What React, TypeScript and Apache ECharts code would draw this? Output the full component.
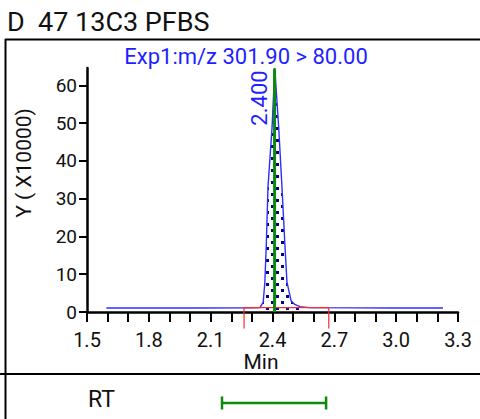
import React, { useEffect, useRef } from "react";
import * as echarts from "echarts";

const headerText = "D  47 13C3 PFBS";
const chartTitle = "Exp1:m/z 301.90 > 80.00";
const yAxisTitle = "Y ( X10000)";
const xAxisTitle = "Min";
const rtLabel = "RT";
const peakLabel = "2.400";

const xLabelValues = [1.5, 1.8, 2.1, 2.4, 2.7, 3.0, 3.3];
const xTickValues = [1.5, 1.6, 1.7, 1.8, 1.9, 2.0, 2.1, 2.2, 2.3, 2.4, 2.5, 2.6, 2.7, 2.8, 2.9, 3.0, 3.1, 3.2, 3.3];
const yTickValues = [0, 10, 20, 30, 40, 50, 60];

// chromatogram trace (Min, intensity x10000)
const traceX = [1.594, 2.0, 2.3, 2.340, 2.355, 2.363, 2.370, 2.378, 2.398, 2.411, 2.430, 2.446, 2.460, 2.470, 2.490, 2.508, 2.533, 2.58, 2.8, 3.0, 3.227];
const traceY = [1.05, 1.05, 1.1, 1.2, 2.6, 8, 18, 33, 49, 64.5, 49, 33, 18, 8, 3.0, 2.0, 1.4, 1.15, 1.1, 1.05, 1.05];

// integrated peak region
const peakStart = 2.340;
const peakEnd = 2.533;

// integration baseline (red)
const baseX = [2.262, 2.262, 2.673, 2.673];
const baseY = [-4.4, 1.15, 1.15, -4.4];

// apex marker
const apexRT = 2.41;
const apexHeight = 64.5;

// RT window
const rtWindow = [2.155, 2.66];

function makeDots(): string {
  const c = document.createElement("canvas");
  c.width = 10;
  c.height = 12;
  const g = c.getContext("2d")!;
  g.fillStyle = "#00008b";
  g.fillRect(1, 1, 3, 3);
  g.fillRect(6, 7, 3, 3);
  return c.toDataURL();
}

export default function App() {
  const ref = useRef<HTMLDivElement>(null);
  useEffect(() => {
    document.body.style.margin = "0";
    const chart = echarts.init(ref.current!, null, { renderer: "svg" });
    const font = "Roboto, 'Liberation Sans', sans-serif";
    const trace = traceX.map((x, i) => [x, traceY[i]]);
    const peak = trace.filter((p) => p[0] >= peakStart && p[0] <= peakEnd);
    const base = baseX.map((x, i) => [x, baseY[i]]);
    const dots = makeDots();

    chart.setOption({
      animation: false,
      textStyle: { fontFamily: font },
      grid: [
        { left: 87, right: 22, top: 68, bottom: 107 },
        { left: 87, right: 22, top: 390, height: 26 },
      ],
      xAxis: [
        {
          type: "value",
          gridIndex: 0,
          min: 1.5,
          max: 3.3,
          splitLine: { show: false },
          axisLine: { lineStyle: { color: "#000", width: 2.5 } },
          axisTick: { customValues: xTickValues, length: 10, lineStyle: { color: "#000", width: 2 } },
          axisLabel: {
            customValues: xLabelValues,
            formatter: (v: number) => v.toFixed(1),
            color: "#111",
            fontSize: 20,
            margin: 18,
            fontFamily: font,
          },
        },
        { type: "value", gridIndex: 1, min: 1.5, max: 3.3, show: false },
      ],
      yAxis: [
        {
          type: "value",
          gridIndex: 0,
          min: 0,
          max: 64.6,
          splitLine: { show: false },
          axisLine: { show: true, lineStyle: { color: "#000", width: 2.5 } },
          axisTick: { show: true, customValues: yTickValues, length: 8, lineStyle: { color: "#000", width: 2 } },
          axisLabel: {
            customValues: yTickValues,
            color: "#111",
            fontSize: 19,
            margin: 10,
            fontFamily: font,
          },
        },
        { type: "value", gridIndex: 1, min: 0, max: 1, show: false },
      ],
      series: [
        {
          type: "line",
          data: peak,
          symbol: "none",
          lineStyle: { opacity: 0 },
          areaStyle: { color: { image: dots, repeat: "repeat", imageWidth: 10, imageHeight: 12 }, opacity: 1 },
          z: 2,
        },
        {
          type: "line",
          data: trace,
          symbol: "none",
          lineStyle: { color: "#2e2eff", width: 1.4 },
          z: 3,
        },
        {
          type: "line",
          data: base,
          symbol: "none",
          clip: false,
          lineStyle: { color: "#ff2a2a", width: 1.2 },
          z: 4,
        },
        {
          type: "line",
          data: [
            [apexRT, 0],
            [apexRT, apexHeight],
          ],
          symbol: "none",
          lineStyle: { color: "#0c8a0c", width: 3 },
          z: 5,
        },
        {
          type: "line",
          xAxisIndex: 1,
          yAxisIndex: 1,
          data: [
            [rtWindow[0], 0.5],
            [rtWindow[1], 0.5],
          ],
          symbol: "rect",
          symbolSize: [2.5, 13],
          itemStyle: { color: "#0c8a0c" },
          lineStyle: { color: "#0c8a0c", width: 2.5 },
        },
      ],
    });

    const apexPx = chart.convertToPixel({ gridIndex: 0 }, [apexRT, apexHeight]) as number[];

    chart.setOption({
      graphic: [
        { type: "line", shape: { x1: 5, y1: 39.5, x2: 480, y2: 39.5 }, style: { stroke: "#000", lineWidth: 2 } },
        { type: "line", shape: { x1: 0, y1: 374, x2: 480, y2: 374 }, style: { stroke: "#000", lineWidth: 2 } },
        { type: "line", shape: { x1: 5.5, y1: 39, x2: 5.5, y2: 419 }, style: { stroke: "#000", lineWidth: 2 } },
        {
          type: "text",
          x: 7,
          y: 22,
          scaleX: 1.08,
          style: { text: headerText, font: `25px ${font}`, fill: "#111", verticalAlign: "middle" },
        },
        {
          type: "text",
          x: 246,
          y: 56,
          style: { text: chartTitle, font: `22px ${font}`, fill: "#1f1fff", align: "center", verticalAlign: "middle" },
        },
        {
          type: "text",
          x: 24,
          y: 163,
          rotation: Math.PI / 2,
          style: { text: yAxisTitle, font: `21px ${font}`, fill: "#111", align: "center", verticalAlign: "middle" },
        },
        {
          type: "text",
          x: 261,
          y: 362,
          style: { text: xAxisTitle, font: `21px ${font}`, fill: "#111", align: "center", verticalAlign: "middle" },
        },
        {
          type: "text",
          x: 88,
          y: 399,
          style: { text: rtLabel, font: `23px ${font}`, fill: "#111", verticalAlign: "middle" },
        },
        {
          type: "text",
          x: apexPx[0] - 15,
          y: apexPx[1] + 2,
          rotation: Math.PI / 2,
          style: { text: peakLabel, font: `22px ${font}`, fill: "#1f1fff", align: "right", verticalAlign: "middle" },
        },
      ],
    });

    return () => chart.dispose();
  }, []);
  return <div ref={ref} style={{ width: 480, height: 419 }} />;
}
